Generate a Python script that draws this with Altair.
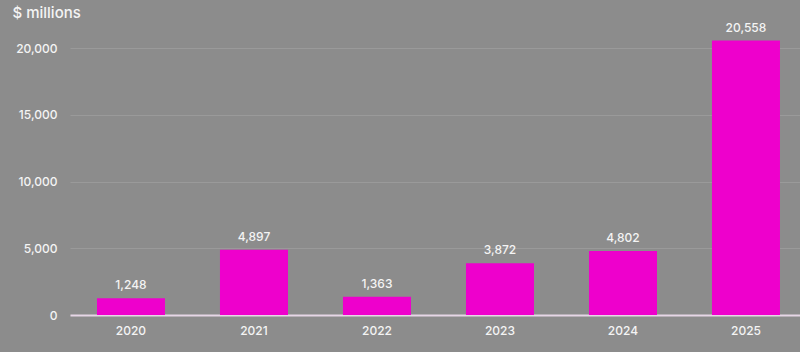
import altair as alt
import pandas as pd

years = ["2020", "2021", "2022", "2023", "2024", "2025"]
values = [1248, 4897, 1363, 3872, 4802, 20558]

df = pd.DataFrame({"year": years, "value": values})

FONT = "Inter"
TXT = "#f4f4f4"

base = alt.Chart(df).encode(
    x=alt.X("year:N", sort=years,
            scale=alt.Scale(paddingInner=0.447, paddingOuter=0.191, align=0.574),
            axis=alt.Axis(title=None, labelAngle=0, labelFontSize=12, labelColor=TXT,
                          labelFont=FONT, labelFontWeight=500, labelPadding=10, ticks=False,
                          domainColor="#e6d6e6", domainWidth=2, grid=False)),
    y=alt.Y("value:Q", scale=alt.Scale(domain=[0, 21500], nice=False),
            axis=alt.Axis(values=[0, 5000, 10000, 15000, 20000], format=",.0f",
                          title="$ millions", titleAngle=0, titleAlign="left",
                          titleBaseline="alphabetic", titleX=-58, titleY=-11,
                          titleFontSize=15, titleFontWeight=500, titleColor=TXT,
                          titleFont=FONT,
                          labelFontSize=12, labelColor=TXT, labelFont=FONT,
                          labelFontWeight=500,
                          labelPadding=13, ticks=False, domain=False,
                          gridColor="#9a9a9a", gridWidth=1)),
)

bars = base.mark_bar(color="#ee00cc")
labels = base.mark_text(dy=-6, baseline="bottom", fontSize=12, fontWeight=500,
                        color=TXT, font=FONT).encode(
    text=alt.Text("value:Q", format=",.0f")
)

chart = (bars + labels).properties(
    width=730, height=287,
    background="#8c8c8c",
    padding={"left": 70, "top": 28, "right": 0, "bottom": 37},
    autosize=alt.AutoSizeParams(type="none"),
).configure_view(stroke=None)

chart.save("out.html", embed_options={"renderer": "svg", "actions": False})
